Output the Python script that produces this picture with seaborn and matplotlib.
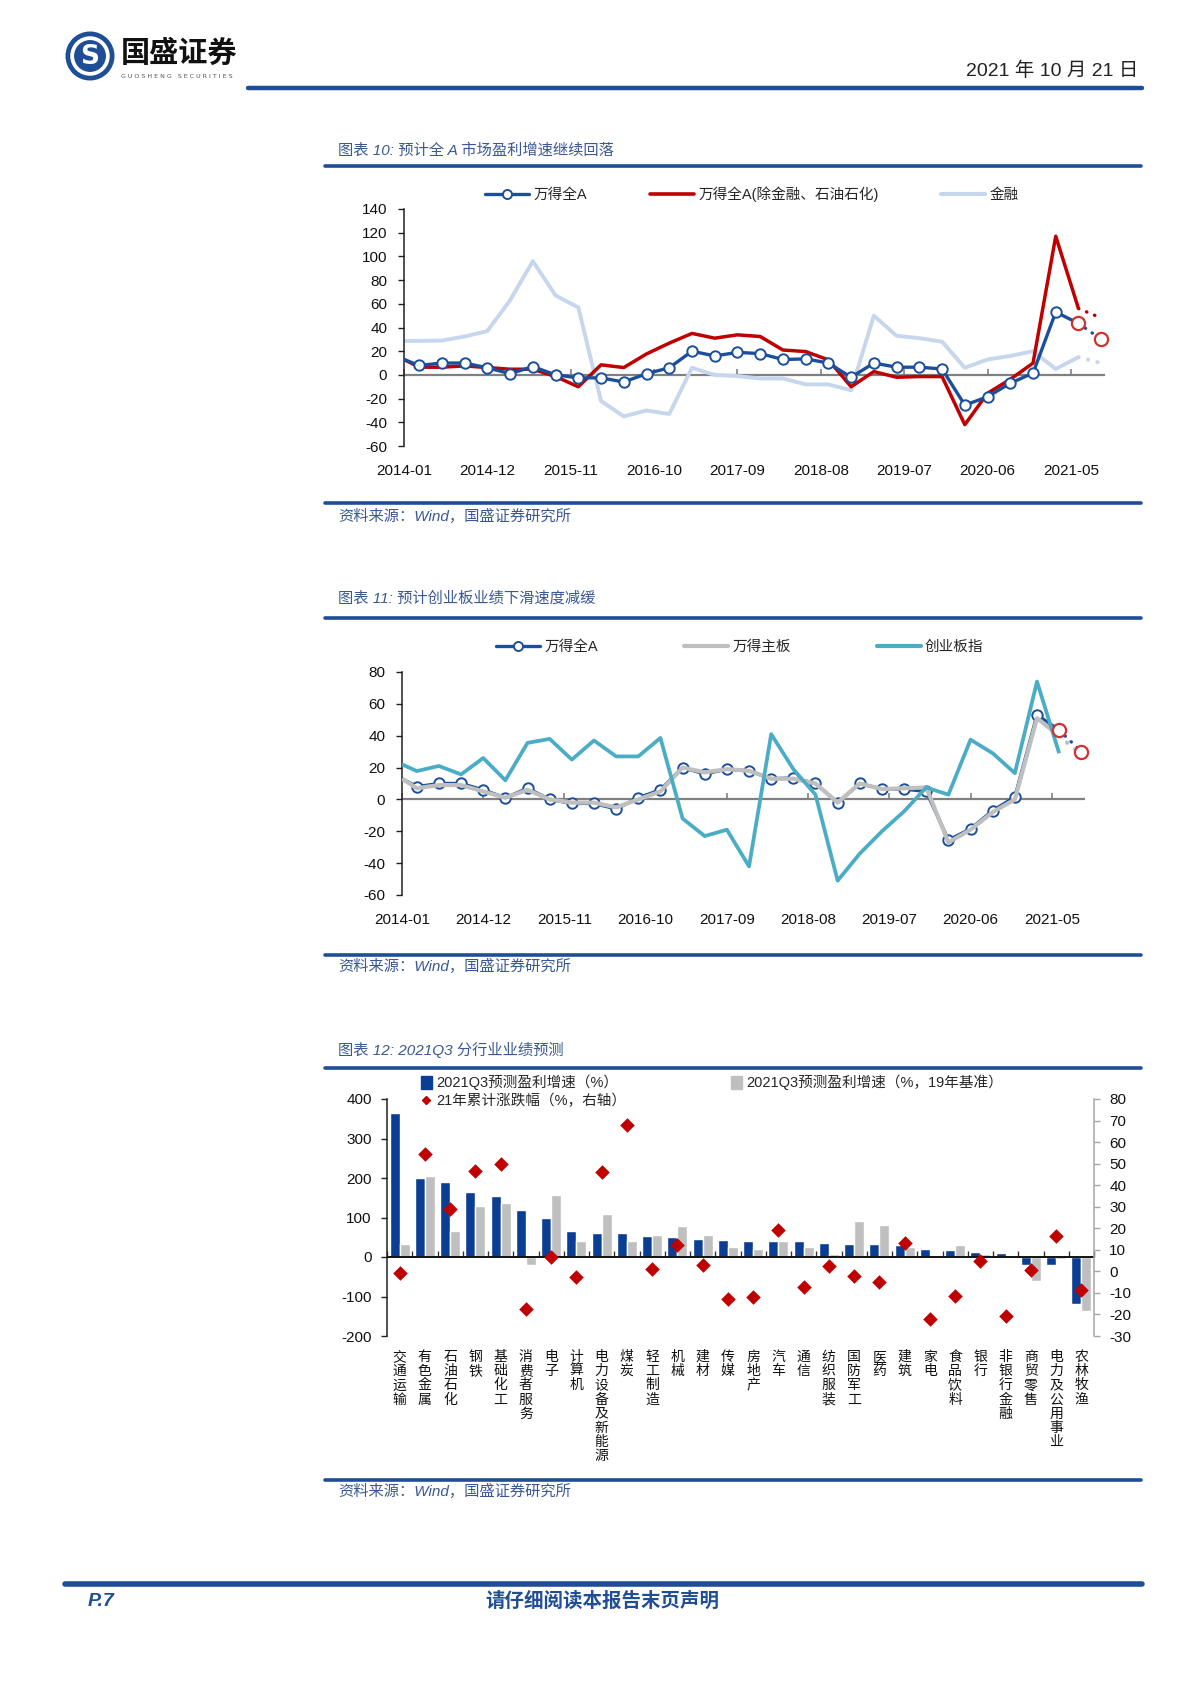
import numpy as np
import pandas as pd
import matplotlib.pyplot as plt
import matplotlib.patches as mpatches
from matplotlib.lines import Line2D
import seaborn as sns

sns.set_theme(style='white')
plt.rcParams['font.family'] = ['Liberation Sans', 'Noto Sans CJK SC', 'DejaVu Sans']
plt.rcParams['axes.unicode_minus'] = False

# ---------------- data ----------------
# months since 2014-01: first point 2014-01, then quarter ends 2014-03 ... 2021-09
months = [0] + [2 + 3 * k for k in range(31)]
tick_months = [0, 11, 22, 33, 44, 55, 66, 77, 88]
tick_labels = ['2014-01', '2014-12', '2015-11', '2016-10', '2017-09',
               '2018-08', '2019-07', '2020-06', '2021-05']

# 图表10 / 11
wind_all = [13, 8, 10, 10, 6, 1, 7, 0, -2.5, -2.5, -6, 1, 6, 20, 16, 19, 18,
            13, 13.5, 10, -2, 10, 6.5, 6.5, 5, -25.5, -18.5, -7, 1.5, 53, 43.5, 30]
wind_ex_fin = [13, 6.5, 6.5, 7.6, 6.2, 4.8, 4.8, -1.4, -10, 8.5, 6.2, 17.7, 26.8,
               35, 31, 33.8, 32.4, 21, 19.7, 12.7, -10, 2.8, -2, -1.4, -1.4, -42,
               -15.5, -3.7, 9.9, 117, 56, 48]
finance = [28.7, 28.7, 29, 32.4, 37, 63, 96, 67, 57, -22, -35, -30, -33, 6, 0, -1,
           -3, -3, -8, -8, -13, 50, 33, 31, 28, 6, 13, 16, 20, 5, 15, 10]
main_board = [13, 7, 9, 9, 5, 1, 6, 0, -2, -2, -5, 0, 5, 20, 17, 19, 18, 13, 13,
              10, -2, 10, 6.5, 7, 7.5, -27, -19, -8, 0, 51, 40, 28]
chinext = [22, 17.8, 21, 15.7, 26, 12, 35.5, 38, 25, 37, 27, 27, 38.6, -12, -23,
           -19, -42, 41, 19, 3, -51, -34, -20, -7.5, 7.5, 3, 37.5, 29, 16.5, 74, 29]

# 图表12
industries = ['交通运输', '有色金属', '石油石化', '钢铁', '基础化工', '消费者服务', '电子',
              '计算机', '电力设备及新能源', '煤炭', '轻工制造', '机械', '建材', '传媒',
              '房地产', '汽车', '通信', '纺织服装', '国防军工', '医药', '建筑', '家电',
              '食品饮料', '银行', '非银行金融', '商贸零售', '电力及公用事业', '农林牧渔']
growth_q3 = [364, 199, 189, 165, 155, 120, 100, 66, 62, 60, 53, 51, 45, 42, 41, 41,
             40, 36, 34, 34, 30, 19.5, 17, 12.7, 10, -21, -21, -119]
growth_19 = [32, 206, 67, 129, 136, -21, 158, 40, 109, 40, 55, 78, 55, 25, 21, 41,
             25, 8.5, 91.5, 80.5, 25, 3, 31, 8, 2, -62, -4, -136]
ytd_chg = [-0.9, 54.3, 29, 46.8, 50, -17.7, 6.5, -2.8, 46.2, 67.9, 1.1, 12.1, 3.1,
           -12.7, -12, 19.4, -7.4, 2.3, -2, -5, 13.2, -22.2, -11.6, 5, -20.5, 0.5,
           16.6, -8.5]
lab_q3 = '2021Q3预测盈利增速（%）'
lab_19 = '2021Q3预测盈利增速（%，19年基准）'
lab_ytd = '21年累计涨跌幅（%，右轴）'

# ---------------- colours ----------------
NAVY = '#1F4E96'
TITLE_C = '#3A5894'
BLUE = '#1B4F9C'
RED = '#C00000'
RED_C = '#D03030'
LIGHT = '#C6D6EC'
GRAY = '#BFBFBF'
TEAL = '#4BACC6'
BAR_BLUE = '#0A3E94'

W, H = 1200, 1698
fig = plt.figure(figsize=(12, 16.98), dpi=100)


def box(x0, y0, x1, y1):
    return [x0 / W, 1 - y1 / H, (x1 - x0) / W, (y1 - y0) / H]


def fx(x):
    return x / W


def fy(y):
    return 1 - y / H


def hline(x0, x1, y, lw, color):
    fig.add_artist(Line2D([fx(x0), fx(x1)], [fy(y), fy(y)], lw=lw, color=color,
                          transform=fig.transFigure))


def block(title, y_title, y_top, y_bot, y_src):
    fig.text(fx(338), fy(y_title), title, fontsize=11, color=TITLE_C,
             va='center', style='italic')
    hline(325, 1141, y_top, 2.6, NAVY)
    hline(325, 1141, y_bot, 2.6, NAVY)
    fig.text(fx(338), fy(y_src), '资料来源：Wind，国盛证券研究所', fontsize=11,
             color=TITLE_C, va='center', style='italic')


# ---------------- header / footer ----------------
logo = fig.add_axes(box(64, 31, 116, 81))
logo.set_xlim(-1.05, 1.05)
logo.set_ylim(-1.05, 1.05)
logo.set_aspect('equal')
logo.axis('off')
logo.add_patch(mpatches.Circle((0, 0), 1.0, color=NAVY))
logo.add_patch(mpatches.Circle((0, 0), 0.8, color='white'))
logo.add_patch(mpatches.Circle((0, 0), 0.64, color=NAVY))
logo.text(0, -0.04, 'S', color='white', fontsize=19, fontweight='bold',
          ha='center', va='center', family='DejaVu Sans')
fig.text(fx(121), fy(54), '国盛证券', fontsize=21, fontweight='bold',
         va='center', color='#111111')
fig.text(fx(121), fy(76), 'G U O S H E N G   S E C U R I T I E S', fontsize=4.6,
         va='center', color='#555555', family='DejaVu Sans')
hline(248, 1142, 88, 3.2, NAVY)
fig.text(fx(1138), fy(71), '2021 年 10 月 21 日', ha='right', va='center',
         fontsize=14, color='#222222')

hline(65, 1142, 1584, 4, NAVY)
fig.text(fx(88), fy(1601), 'P.7', fontsize=14, fontweight='bold', style='italic',
         color=NAVY, va='center')
fig.text(fx(602), fy(1601), '请仔细阅读本报告末页声明', fontsize=14,
         fontweight='bold', ha='center', va='center', color=NAVY)

block('图表 10: 预计全 A 市场盈利增速继续回落', 150, 166, 503, 516)
block('图表 11: 预计创业板业绩下滑速度减缓', 599, 618, 955, 966)
block('图表 12: 2021Q3 分行业业绩预测', 1050, 1068, 1480, 1491)


# ---------------- line charts ----------------
def style_line_axes(ax, ymin, ymax):
    ax.set_xlim(0, 92.5)
    ax.set_ylim(ymin, ymax)
    ax.set_yticks(range(ymin, ymax + 1, 20))
    ax.set_xticks(tick_months)
    ax.set_xticklabels(tick_labels)
    ax.set_xlabel('')
    ax.set_ylabel('')
    for s in ['top', 'right', 'bottom']:
        ax.spines[s].set_visible(False)
    ax.spines['left'].set_color('#202020')
    ax.spines['left'].set_linewidth(1.1)
    ax.tick_params(axis='y', left=True, length=4, width=1, direction='out',
                   pad=8, labelsize=11, color='#202020', labelcolor='#111111')
    ax.tick_params(axis='x', bottom=False, length=0, pad=13, labelsize=11,
                   labelcolor='#111111')
    ax.axhline(0, color='#808080', lw=1.6, zorder=1)
    sec = ax.secondary_xaxis(-ymin / (ymax - ymin))
    sec.set_xticks(tick_months)
    sec.tick_params(axis='x', bottom=True, direction='in', length=4, width=1.2,
                    color='#808080', labelbottom=False)
    for s in sec.spines.values():
        s.set_visible(False)
    ax.patch.set_alpha(0)


def solid_and_dotted(ax, y, color, lw, z):
    n = min(len(y), 31)
    sns.lineplot(x=months[:n], y=y[:n], ax=ax, color=color, lw=lw, zorder=z,
                 errorbar=None, solid_joinstyle='round', solid_capstyle='butt')
    if len(y) > 31:
        sns.lineplot(x=months[30:], y=y[30:], ax=ax, color=color, lw=lw, zorder=z,
                     errorbar=None, linestyle=(0, (0.1, 2.4)),
                     dash_capstyle='round', clip_on=False)


def wind_all_series(ax, z):
    sns.lineplot(x=months[:31], y=wind_all[:31], ax=ax, color=BLUE, lw=2.4,
                 zorder=z, errorbar=None, marker='o', markersize=7.5,
                 markerfacecolor='white', markeredgecolor=BLUE,
                 markeredgewidth=1.4, markevery=list(range(1, 30)))
    sns.lineplot(x=months[30:], y=wind_all[30:], ax=ax, color=BLUE, lw=2.4,
                 zorder=z, errorbar=None, linestyle=(0, (0.1, 2.4)),
                 dash_capstyle='round', clip_on=False)
    sns.scatterplot(x=months[30:], y=wind_all[30:], ax=ax, s=90,
                    facecolor='white', edgecolor=RED_C, linewidth=1.6, zorder=6,
                    clip_on=False)


# 图表10
ax10 = fig.add_axes(box(404, 209, 1105, 446))
solid_and_dotted(ax10, finance, LIGHT, 2.8, 2)
solid_and_dotted(ax10, wind_ex_fin, RED, 2.5, 3)
wind_all_series(ax10, 4)
style_line_axes(ax10, -60, 140)
h10 = [Line2D([], [], color=BLUE, lw=2.4, marker='o', markersize=6.5,
              markerfacecolor='white', markeredgecolor=BLUE, markeredgewidth=1.4),
       Line2D([], [], color=RED, lw=2.6),
       Line2D([], [], color=LIGHT, lw=3)]
ax10.legend(h10, ['万得全A', '万得全A(除金融、石油石化)', '金融'], loc='center',
            bbox_to_anchor=(fx(752), fy(194)), bbox_transform=fig.transFigure,
            ncol=3, frameon=False, fontsize=10.5, handlelength=3,
            handletextpad=0.3, columnspacing=4.3)

# 图表11
ax11 = fig.add_axes(box(402, 672, 1085, 895))
wind_all_series(ax11, 2)
solid_and_dotted(ax11, main_board, GRAY, 3.0, 3)
solid_and_dotted(ax11, chinext, TEAL, 2.7, 4)
style_line_axes(ax11, -60, 80)
h11 = [Line2D([], [], color=BLUE, lw=2.4, marker='o', markersize=6.5,
              markerfacecolor='white', markeredgecolor=BLUE, markeredgewidth=1.4),
       Line2D([], [], color=GRAY, lw=3),
       Line2D([], [], color=TEAL, lw=3)]
ax11.legend(h11, ['万得全A', '万得主板', '创业板指'], loc='center',
            bbox_to_anchor=(fx(740), fy(647)), bbox_transform=fig.transFigure,
            ncol=3, frameon=False, fontsize=10.5, handlelength=3,
            handletextpad=0.3, columnspacing=5.9)

# ---------------- 图表12 bars ----------------
ax12 = fig.add_axes(box(387, 1099, 1094, 1336))
df = pd.DataFrame({'行业': industries * 2,
                   '系列': [lab_q3] * len(industries) + [lab_19] * len(industries),
                   '值': growth_q3 + growth_19})
sns.barplot(data=df, x='行业', y='值', hue='系列', order=industries,
            hue_order=[lab_q3, lab_19], palette=[BAR_BLUE, GRAY], width=0.8,
            saturation=1, errorbar=None, legend=False, ax=ax12)
ax12.set_ylim(-200, 400)
ax12.set_yticks(range(-200, 401, 100))
ax12.set_xticks(range(len(industries)))
ax12.set_xticklabels(['\n'.join(s) for s in industries], fontsize=10,
                     linespacing=1.02, va='top', color='#111111')
ax12.set_xlabel('')
ax12.set_ylabel('')
for s in ['top', 'right', 'bottom']:
    ax12.spines[s].set_visible(False)
ax12.spines['left'].set_color('#202020')
ax12.spines['left'].set_linewidth(1.1)
ax12.tick_params(axis='y', left=True, length=4, width=1, direction='out', pad=7,
                 labelsize=11, color='#202020', labelcolor='#111111')
ax12.tick_params(axis='x', bottom=False, length=0, pad=10)
ax12.axhline(0, color='#111111', lw=1.4, zorder=3)
sec12 = ax12.secondary_xaxis(1 / 3)
sec12.set_xticks(np.arange(-0.5, len(industries), 1))
sec12.tick_params(axis='x', bottom=True, direction='in', length=4, width=1,
                  color='#333333', labelbottom=False)
for s in sec12.spines.values():
    s.set_visible(False)

ax12r = ax12.twinx()
sns.scatterplot(x=np.arange(len(industries)), y=ytd_chg, ax=ax12r, marker='D',
                s=55, color=RED, linewidth=0, zorder=4)
ax12r.set_ylim(-30, 80)
ax12r.set_yticks(range(-30, 81, 10))
ax12r.set_ylabel('')
for s in ['top', 'left', 'bottom']:
    ax12r.spines[s].set_visible(False)
ax12r.spines['right'].set_color('#A6A6A6')
ax12r.spines['right'].set_linewidth(1.1)
ax12r.tick_params(axis='y', right=True, length=4, width=1, direction='out', pad=7,
                  labelsize=11, color='#A6A6A6', labelcolor='#111111')
ax12.set_xlim(-0.5, len(industries) - 0.5)

h12 = [mpatches.Patch(color=BAR_BLUE),
       Line2D([], [], ls='none', marker='D', markersize=4.5, color=RED),
       mpatches.Patch(color=GRAY)]
fig.legend(h12, [lab_q3, lab_ytd, lab_19], loc='upper left',
           bbox_to_anchor=(fx(421), fy(1075)), ncol=2, frameon=False,
           fontsize=10.5, handlelength=0.75, handleheight=0.9, handletextpad=0.3,
           columnspacing=7.2, labelspacing=0.25, borderpad=0, borderaxespad=0)

fig.savefig('out.png', dpi=100)
